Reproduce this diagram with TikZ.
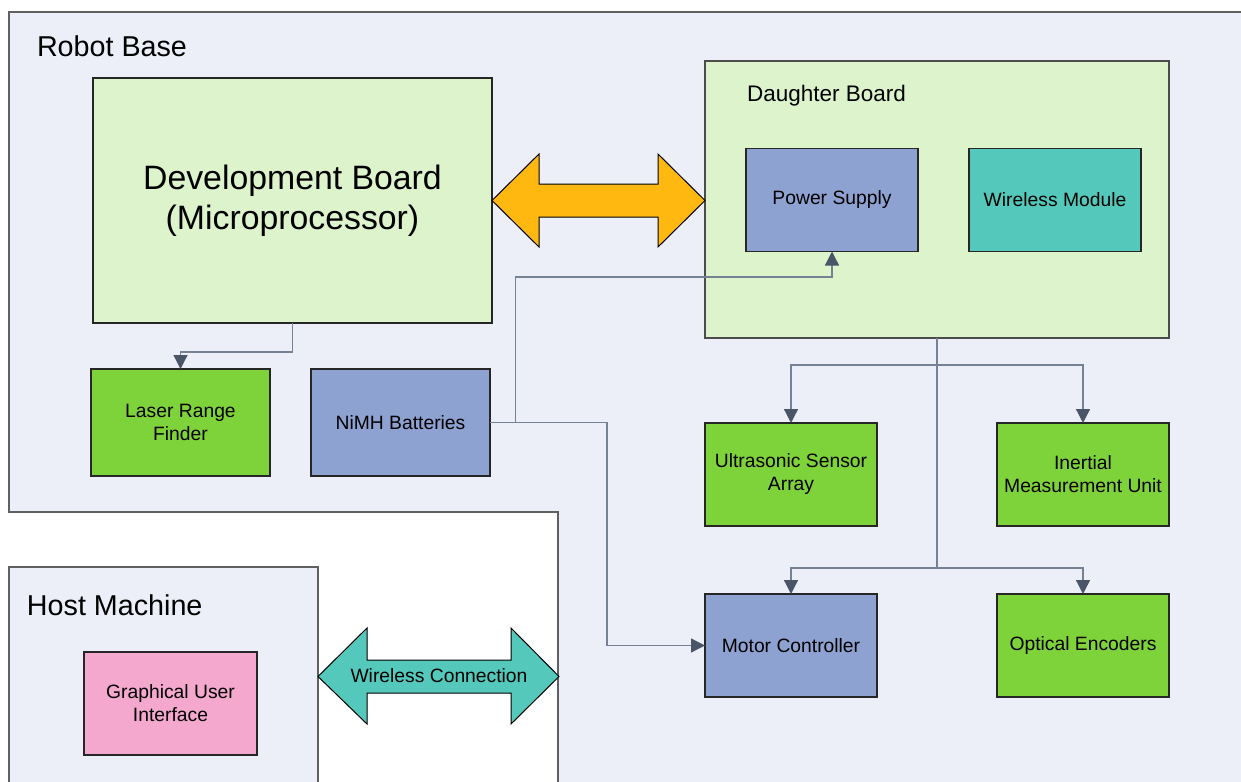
\documentclass[tikz,border=0pt]{standalone}
\usepackage{fontspec}
\setmainfont{Liberation Sans}
\usetikzlibrary{arrows.meta}
\definecolor{basefill}{RGB}{236,239,248}
\definecolor{lgreen}{RGB}{221,243,203}
\definecolor{pblue}{RGB}{142,162,210}
\definecolor{pteal}{RGB}{84,201,187}
\definecolor{pgreen}{RGB}{126,210,58}
\definecolor{ppink}{RGB}{244,168,206}
\definecolor{porange}{RGB}{255,184,15}
\definecolor{edgec}{RGB}{96,96,96}
\definecolor{connc}{RGB}{118,130,148}
\definecolor{arrowc}{RGB}{74,85,104}
\begin{document}
\begin{tikzpicture}[x=1pt,y=-1pt,
  every node/.style={font=\fontsize{19.3}{23}\selectfont, inner sep=0pt, outer sep=0pt, align=center},
  box/.style={draw=black!85, line width=1.2pt, minimum width=172pt, minimum height=103pt},
  region/.style={draw=edgec, line width=1.5pt, fill=basefill},
  conn/.style={draw=connc, line width=1.3pt, -{Triangle[width=14pt,length=14pt,color=arrowc]}},
  plain/.style={draw=connc, line width=1.3pt},
  bigarrow/.style={draw=black, line width=1pt}]
\useasboundingbox (0,0) rectangle (1241,781);
\fill[white] (0,0) rectangle (1241,781);
\clip (0,0) rectangle (1241,781);
% regions
\draw[region] (9,12) -- (1250,12) -- (1250,790) -- (558,790) -- (558,512) -- (9,512) -- cycle;
\node[anchor=west, font=\fontsize{28.7}{34}\selectfont] (rbl) at (37,46) {Robot Base};
\draw[region] (9,790) -- (9,567) -- (318,567) -- (318,790);
\node[anchor=west, font=\fontsize{28.7}{34}\selectfont] (hml) at (27,605) {Host Machine};
% development board
\node[draw=black!85, line width=1.2pt, fill=lgreen, minimum width=399pt, minimum height=245pt,
  font=\fontsize{33.8}{40}\selectfont] (dev) at (292.5,200.5) {Development Board\\(Microprocessor)};
% daughter board
\node[draw=black!70, line width=1.2pt, fill=lgreen, minimum width=464pt, minimum height=277pt] (db) at (937,199.5) {};
\node[anchor=west, font=\fontsize{22.5}{27}\selectfont] (dbl) at (747,96) {Daughter Board};
\node[box, fill=pblue] (ps) at (832,200) {\raisebox{-1.5pt}{Power Supply}};
\node[box, fill=pteal] (wm) at (1055,200) {Wireless Module};
% left boxes
\node[box, fill=pgreen, minimum width=179pt, minimum height=107pt] (lrf) at (180.5,422.5) {Laser Range\\Finder};
\node[box, fill=pblue, minimum width=179pt, minimum height=107pt] (nimh) at (400.5,422.5) {NiMH Batteries};
% right boxes
\node[box, fill=pgreen] (us) at (791,474.5) {Ultrasonic Sensor\\Array};
\node[box, fill=pgreen] (imu) at (1083,474.5) {Inertial\\Measurement Unit};
\node[box, fill=pblue] (mc) at (791,645.5) {Motor Controller};
\node[box, fill=pgreen] (oe) at (1083,645.5) {\raisebox{-1.5pt}{Optical Encoders}};
% host machine
\node[box, fill=ppink, minimum width=173pt] (gui) at (170.5,703.5) {Graphical User\\Interface};
% big arrows
\draw[bigarrow, fill=porange] (492,200.5) -- (539,154) -- (539,184) -- (658,184) -- (658,154) -- (705,200.5)
  -- (658,247) -- (658,217) -- (539,217) -- (539,247) -- cycle;
\draw[bigarrow, fill=pteal] (318,676.5) -- (367,628) -- (367,660) -- (511,660) -- (511,628) -- (559,676.5)
  -- (511,724) -- (511,693) -- (367,693) -- (367,724) -- cycle;
\node (wc) at (439,676) {Wireless Connection};
% connectors
\coordinate (d1) at (292.5,352);
\draw[conn] (dev.south) -- (d1) -| (lrf.north);
\coordinate (k1) at (515.5,277);
\draw[conn] (nimh.east) -| (k1) -| (ps.south);
\coordinate (k2) at (607,645.5);
\draw[conn] (nimh.east) -| (k2) -- (mc.west);
\coordinate (j1) at (937,365);
\coordinate (j2) at (937,568);
\draw[plain] (db.south) -- (j2);
\draw[conn] (j1) -| (us.north);
\draw[conn] (j1) -| (imu.north);
\draw[conn] (j2) -| (mc.north);
\draw[conn] (j2) -| (oe.north);
\end{tikzpicture}
\end{document}
